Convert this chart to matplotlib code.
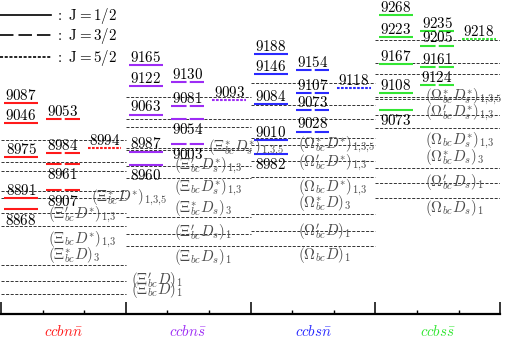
import matplotlib
matplotlib.use('Agg')
import matplotlib.pyplot as plt

plt.rcParams['mathtext.fontset'] = 'cm'
plt.rcParams['lines.scale_dashes'] = False

# ---------------- data ----------------
systems = [r'$ccbn\bar{n}$', r'$ccbn\bar{s}$', r'$ccbs\bar{n}$', r'$ccbs\bar{s}$']
colors = ['#ff1a1a', '#9d2cf5', '#2a2aff', '#33e633']

# masses (MeV) of the states, per system
j12 = [[9087, 9046, 8975, 8891, 8868],
       [9165, 9122, 9063, 8987, 8960],
       [9188, 9146, 9084, 9010, 8982],
       [9268, 9223, 9167, 9108, 9073]]
j32 = [[9053, 8984, 8961, 8907],
       [9130, 9081, 9054, 9003],
       [9154, 9107, 9073, 9028],
       [9235, 9205, 9161, 9124]]
j52 = [[8994], [9093], [9118], [9218]]

# states whose mass label is written below the level
below12 = [[8868], [8960], [8982], [9073]]
below32 = [[8961, 8907], [9054, 9003], [], []]

# thresholds without label (doubly-charmed baryon + bottom meson)
thr_plain = [[9011, 8966, 8948, 8906],
             [9099, 9053, 9038, 8994],
             [9128, 9082, 9055, 9014],
             [9217, 9169, 9147, 9100]]
# labelled thresholds
thr_mass = [[8892, 8860, 8833, 8753, 8721, 8694],
            [8990, 8958, 8933, 8852, 8817, 8792],
            [9000, 8968, 8935, 8858, 8824, 8792],
            [9096, 9062, 9035, 8953, 8922, 8891]]
S135 = r'_{1{,}3{,}5}'
S13 = r'_{1{,}3}'
thr_name = [
    [r'$(\Xi^{*}_{bc}D^{*})' + S135 + '$', r"$(\Xi^{\prime}_{bc}D^{*})" + S13 + '$', r'$(\Xi_{bc}D^{*})' + S13 + '$',
     r'$(\Xi^{*}_{bc}D)_{3}$', r"$(\Xi^{\prime}_{bc}D)_{1}$", r'$(\Xi_{bc}D)_{1}$'],
    [r'$(\Xi^{*}_{bc}D^{*}_{s})' + S135 + '$', r"$(\Xi^{\prime}_{bc}D^{*}_{s})" + S13 + '$', r'$(\Xi_{bc}D^{*}_{s})' + S13 + '$',
     r'$(\Xi^{*}_{bc}D_{s})_{3}$', r"$(\Xi^{\prime}_{bc}D_{s})_{1}$", r'$(\Xi_{bc}D_{s})_{1}$'],
    [r'$(\Omega^{*}_{bc}D^{*})' + S135 + '$', r"$(\Omega^{\prime}_{bc}D^{*})" + S13 + '$', r'$(\Omega_{bc}D^{*})' + S13 + '$',
     r'$(\Omega^{*}_{bc}D)_{3}$', r"$(\Omega^{\prime}_{bc}D)_{1}$", r'$(\Omega_{bc}D)_{1}$'],
    [r'$(\Omega^{*}_{bc}D^{*}_{s})' + S135 + '$', r"$(\Omega^{\prime}_{bc}D^{*}_{s})" + S13 + '$', r'$(\Omega_{bc}D^{*}_{s})' + S13 + '$',
     r'$(\Omega^{*}_{bc}D_{s})_{3}$', r"$(\Omega^{\prime}_{bc}D_{s})_{1}$", r'$(\Omega_{bc}D_{s})_{1}$'],
]
legend_labels = [r'$\mathrm{:\ J{=}1/2}$', r'$\mathrm{:\ J{=}3/2}$', r'$\mathrm{:\ J{=}5/2}$']

# ---------------- layout / style ----------------
PX = 0.72  # points per pixel at dpi 100
label_off = [  # (dx px from group start, dy px downward) for labelled thresholds
    [(90, 0), (47, 1.5), (47, 13.5), (47, -10.5), (130, 0), (130, -4)],
    [(82, -2), (48, 0.5), (48, 10), (48, -9), (48, -1), (48, 10.5)],
    [(47, 0), (47, 2), (47, 11), (47, -11.5), (47, 0.7), (47, 9)],
    [(50, -2), (50, -2), (50, 13), (50, -11.5), (50, 0), (50, 10)],
]
FS = 10.8
ls12 = '-'
ls32 = (0, (11.2, 2.3))
ls52 = (0, (1.9, 1.0))
ls_thr = (0, (2.2, 1.1))
thr_color = '#333333'
lab_color = '#4a4a4a'

fig = plt.figure(figsize=(5.06, 3.39), dpi=100)
H_AX = 313.5
ax = fig.add_axes([1 / 506, (339 - H_AX) / 339, 499.3 / 506, H_AX / 339])
ymax = 9268 + 15 / 0.486
ymin = 9268 - (H_AX - 15) / 0.486
ax.set_xlim(0, 12)
ax.set_ylim(ymin, ymax)

def ax_pt(px, py):
    return ((px - 1) / 499.3, (H_AX - py) / H_AX)

# thresholds
for g in range(4):
    x0, x1 = 3 * g, 3 * g + 3
    for m in thr_plain[g] + thr_mass[g]:
        ax.hlines(m, x0, x1, colors=thr_color, linestyles=ls_thr, lw=0.7, zorder=1)
    for name, m, (dx, dy) in zip(thr_name[g], thr_mass[g], label_off[g]):
        ax.annotate(name, xy=(x0, m), xytext=(dx * PX, -dy * PX), textcoords='offset points',
                    ha='left', va='center', fontsize=FS, color=lab_color, zorder=3,
                    annotation_clip=False)

# levels
def draw_levels(g, col, masses, ls, below):
    x0 = 3 * g + col
    for m in masses:
        ax.hlines(m, x0 + 0.08, x0 + 0.89, colors=colors[g], linestyles=ls, lw=1.5, zorder=2)
        if m in below:
            ax.annotate(rf'${m}$', xy=(x0 + 0.485, m), xytext=(0, -2.3), textcoords='offset points',
                        ha='center', va='top', fontsize=FS, color='black', zorder=4)
        else:
            ax.annotate(rf'${m}$', xy=(x0 + 0.485, m), xytext=(0, 2.3), textcoords='offset points',
                        ha='center', va='baseline', fontsize=FS, color='black', zorder=4)

for g in range(4):
    draw_levels(g, 0, j12[g], ls12, below12[g])
    draw_levels(g, 1, j32[g], ls32, below32[g])
    draw_levels(g, 2, j52[g], ls52, [])

# system names
for g in range(4):
    ax.text(3 * g + 1.5, -(336 - H_AX) / H_AX, systems[g], transform=ax.get_xaxis_transform(),
            ha='center', va='baseline', fontsize=FS, color=colors[g], clip_on=False)

# legend
for i, (ls, lab) in enumerate(zip([ls12, (0, (9.7, 3.6)), (0, (2.2, 1.2))], legend_labels)):
    py = [15, 35, 57][i]
    xa, ya = ax_pt(0, py)
    xb, _ = ax_pt(51, py)
    ax.plot([xa, xb], [ya, ya], transform=ax.transAxes, color='black', lw=1.2, ls=ls, clip_on=False)
    xt, yt = ax_pt(55, py + 0.5)
    ax.text(xt, yt, lab, transform=ax.transAxes, ha='left', va='center', fontsize=FS, color='black')

# axis
for s in ['top', 'left', 'right']:
    ax.spines[s].set_visible(False)
ax.spines['bottom'].set_linewidth(1.6)
ax.set_yticks([])
ax.set_xticks([0, 3, 6, 9, 12])
ax.set_xticks([1, 2, 4, 5, 7, 8, 10, 11], minor=True)
ax.tick_params(axis='x', which='major', direction='in', length=8.6, width=1.1, labelbottom=False)
ax.tick_params(axis='x', which='minor', direction='in', length=2.9, width=1.0)
ax.patch.set_alpha(0)

fig.savefig('out.png', dpi=100)
